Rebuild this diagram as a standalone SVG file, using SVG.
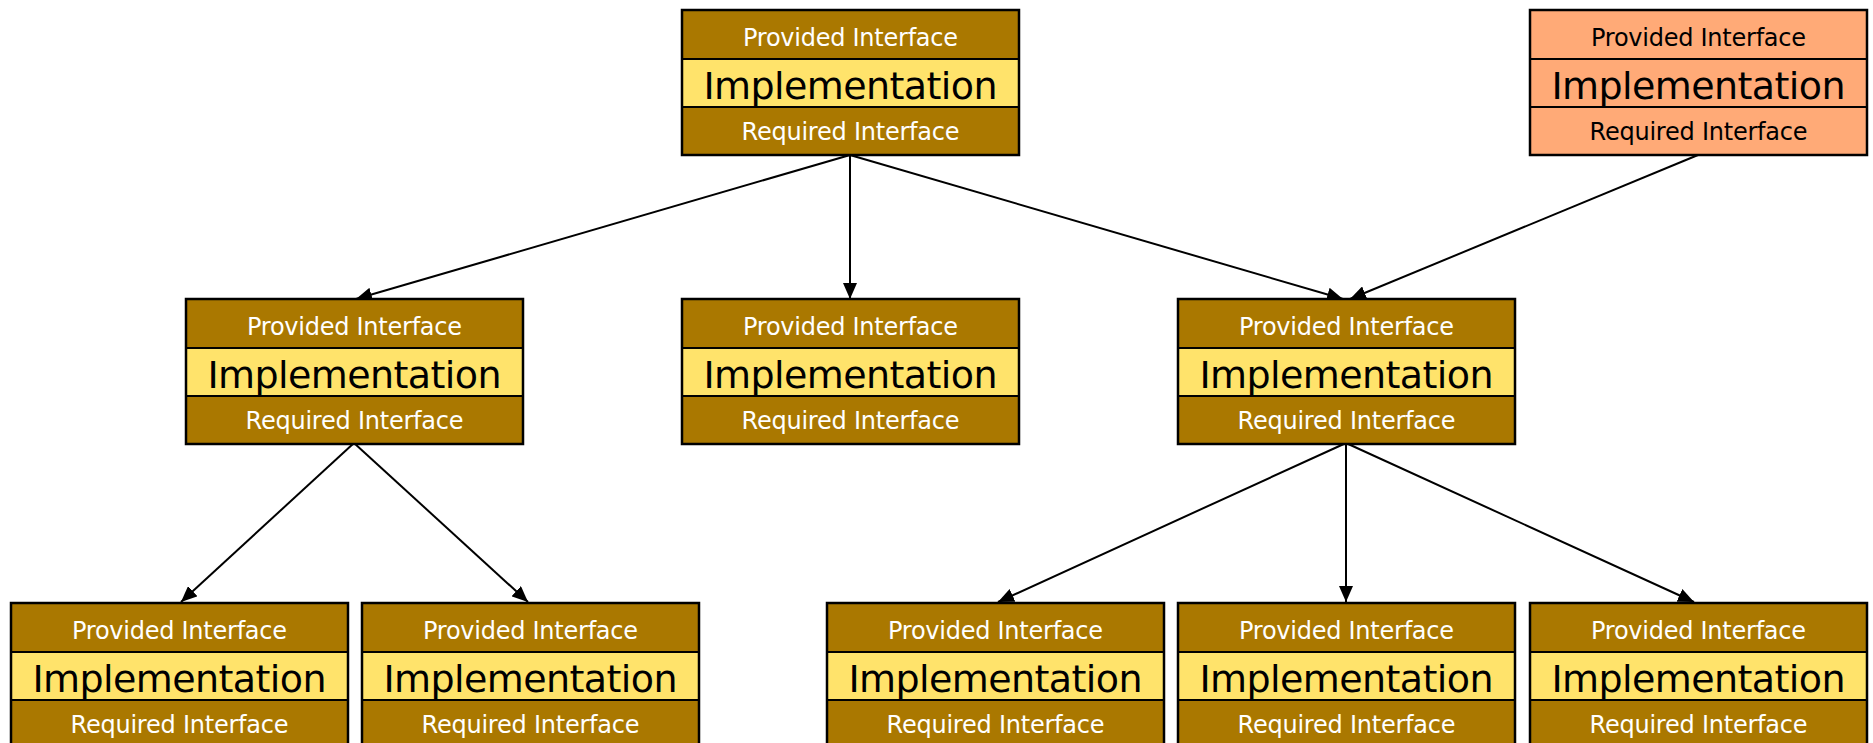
<svg xmlns="http://www.w3.org/2000/svg" width="1873" height="743" viewBox="0 0 1873 743">
<style>
.b{fill:#aa7800}
.y{fill:#ffe36b}
.o{fill:#ffaa77}
.div{stroke:#000;stroke-width:2}
.frame{fill:none;stroke:#000;stroke-width:2.5}
.s{font-family:"DejaVu Sans",Verdana,sans-serif;font-size:24px;text-anchor:middle;fill:#fff}
.l{font-family:"DejaVu Sans",Verdana,sans-serif;font-size:38px;text-anchor:middle;fill:#000}
.dk{fill:#000}
.e{stroke:#000;stroke-width:2;fill:none;marker-end:url(#ah)}
</style>
<defs>
<marker id="ah" markerUnits="userSpaceOnUse" markerWidth="17" markerHeight="14" refX="16" refY="7" orient="auto">
<path d="M0,0 L16,7 L0,14 z" fill="#000"/>
</marker>
<g id="tpl">
<rect class="b" x="0" y="0" width="337" height="49"/>
<rect class="y" x="0" y="49" width="337" height="48"/>
<rect class="b" x="0" y="97" width="337" height="48"/>
<line class="div" x1="0" y1="49" x2="337" y2="49"/>
<line class="div" x1="0" y1="97" x2="337" y2="97"/>
<rect class="frame" x="0" y="0" width="337" height="145"/>
<text class="s" x="168.5" y="36" textLength="215" lengthAdjust="spacing">Provided Interface</text>
<text class="l" x="168.5" y="89" textLength="294" lengthAdjust="spacing">Implementation</text>
<text class="s" x="168.5" y="130" textLength="218" lengthAdjust="spacing">Required Interface</text>
</g>
</defs>
<rect width="1873" height="743" fill="#fff"/>
<g id="connectors">
<line class="e" x1="850" y1="155" x2="356" y2="299"/>
<line class="e" x1="850" y1="155" x2="850" y2="299"/>
<line class="e" x1="850" y1="155" x2="1343" y2="299"/>
<line class="e" x1="1698" y1="155" x2="1350" y2="299"/>
<line class="e" x1="354" y1="443" x2="181" y2="602"/>
<line class="e" x1="354" y1="443" x2="528" y2="602"/>
<line class="e" x1="1346" y1="443" x2="998" y2="602"/>
<line class="e" x1="1346" y1="443" x2="1346" y2="602"/>
<line class="e" x1="1346" y1="443" x2="1694" y2="602"/>
</g>
<g id="n-top"><use href="#tpl" x="682" y="10"/></g>
<g id="n-topright" transform="translate(1530,10)">
<rect class="o" x="0" y="0" width="337" height="145"/>
<line class="div" x1="0" y1="49" x2="337" y2="49"/>
<line class="div" x1="0" y1="97" x2="337" y2="97"/>
<rect class="frame" x="0" y="0" width="337" height="145"/>
<text class="s dk" x="168.5" y="36" textLength="215" lengthAdjust="spacing">Provided Interface</text>
<text class="l" x="168.5" y="89" textLength="294" lengthAdjust="spacing">Implementation</text>
<text class="s dk" x="168.5" y="130" textLength="218" lengthAdjust="spacing">Required Interface</text>
</g>
<g id="n-midleft"><use href="#tpl" x="186" y="299"/></g>
<g id="n-midcenter"><use href="#tpl" x="682" y="299"/></g>
<g id="n-midright"><use href="#tpl" x="1178" y="299"/></g>
<g id="n-bot1"><use href="#tpl" x="11" y="603"/></g>
<g id="n-bot2"><use href="#tpl" x="362" y="603"/></g>
<g id="n-bot3"><use href="#tpl" x="827" y="603"/></g>
<g id="n-bot4"><use href="#tpl" x="1178" y="603"/></g>
<g id="n-bot5"><use href="#tpl" x="1530" y="603"/></g>
</svg>
